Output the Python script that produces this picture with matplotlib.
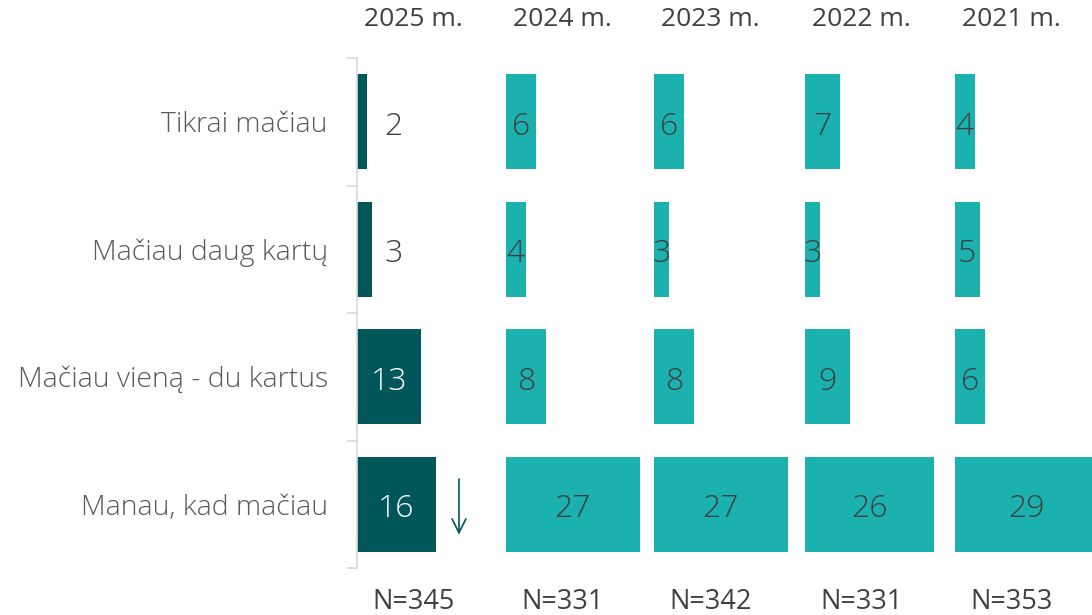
import matplotlib.pyplot as plt

# Datos del grafico
categorias = ["Tikrai mačiau", "Mačiau daug kartų", "Mačiau vieną - du kartus", "Manau, kad mačiau"]
anios = ["2025 m.", "2024 m.", "2023 m.", "2022 m.", "2021 m."]
valores_2025 = [2, 3, 13, 16]
valores_2024 = [6, 4, 8, 27]
valores_2023 = [6, 3, 8, 27]
valores_2022 = [7, 3, 9, 26]
valores_2021 = [4, 5, 6, 29]
muestras = ["N=345", "N=331", "N=342", "N=331", "N=353"]

series = [valores_2025, valores_2024, valores_2023, valores_2022, valores_2021]

oscuro = "#01565A"
claro = "#1BB1AF"
gris_texto = "#404040"

plt.rcParams['font.family'] = ['Open Sans', 'DejaVu Sans']

fig = plt.figure(figsize=(10.92, 6.15), dpi=100)
W, H = 1092.0, 615.0
izquierdas = [357, 506, 654, 805, 955]
y0, y1 = 58, 568
alto_px = y1 - y0
ancho_px = 150
xmax = 30.3

pos = list(range(len(categorias)))

for i, (anio, vals) in enumerate(zip(anios, series)):
    ax = fig.add_axes([izquierdas[i] / W, (H - y1) / H, ancho_px / W, alto_px / H])
    ax.set_xlim(0, xmax)
    ax.set_ylim(len(categorias) - 0.5, -0.5)
    color = oscuro if i == 0 else claro
    ax.barh(pos, vals, height=0.745, color=color)

    # etiquetas de valores
    for p, v in zip(pos, vals):
        if i == 0 and v < 5:
            x, c = 7.3, gris_texto
        elif i == 0:
            x, c = v / 2, "white"
        else:
            x, c = v / 2, gris_texto
        ax.text(x, p + 0.04, str(v), ha="center", va="center", fontsize=23,
                color=c, fontweight="light")

    # titulo del anio y tamano de muestra
    ax.text(11.4, 1 + 38 / alto_px, anio, ha="center", va="center", fontsize=19,
            color=gris_texto, transform=ax.get_xaxis_transform(), clip_on=False)
    ax.text(11.4, -34 / alto_px, muestras[i], ha="center", va="center", fontsize=19.5,
            color=gris_texto, transform=ax.get_xaxis_transform(), clip_on=False)

    ax.set_xticks([])
    for s in ["top", "right", "bottom"]:
        ax.spines[s].set_visible(False)
    if i == 0:
        ax.spines["left"].set_color("#D9D9D9")
        ax.spines["left"].set_linewidth(1.2)
        ax.set_yticks(pos)
        ax.set_yticklabels(categorias, fontsize=20.5, color="#595959", fontweight="light")
        ax.tick_params(axis="y", which="major", length=0, pad=21)
        ax.set_yticks([-0.5, 0.5, 1.5, 2.5, 3.5], minor=True)
        ax.tick_params(axis="y", which="minor", length=7, color="#D9D9D9", width=1.2)
        # flecha de descenso
        ax.annotate("", xy=(20.6, 3.26), xytext=(20.6, 2.78),
                    arrowprops=dict(arrowstyle="->", color=oscuro, lw=1.2,
                                    mutation_scale=25))
    else:
        ax.spines["left"].set_visible(False)
        ax.set_yticks([])

fig.savefig("out.png", dpi=100)
